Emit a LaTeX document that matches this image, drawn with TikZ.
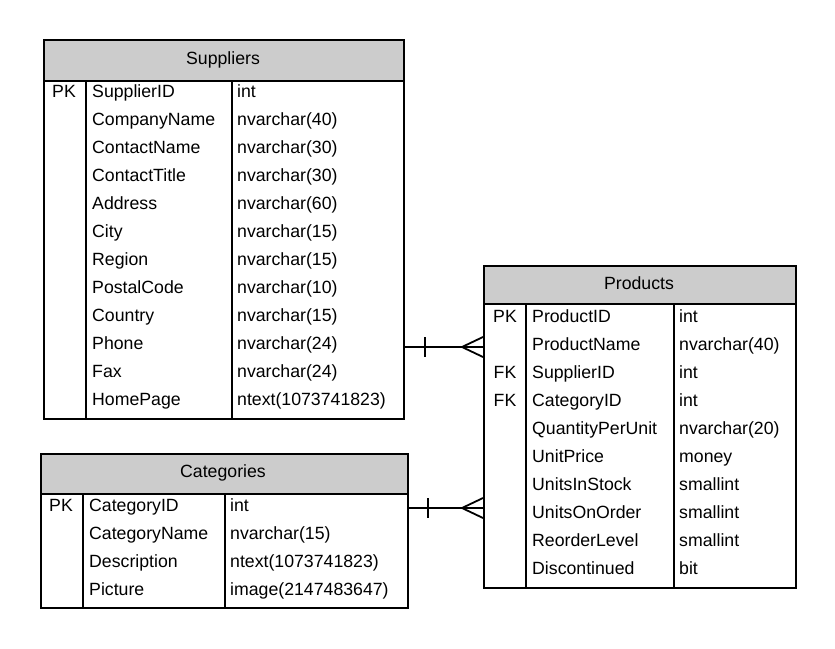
\documentclass[tikz,border=0pt]{standalone}
\usepackage{fontspec}
\setmainfont{Liberation Sans}
\begin{document}
\begin{tikzpicture}[x=1pt,y=-1pt,
  tbl/.style={draw,line width=1.8pt,anchor=north west,inner sep=0pt},
  hdr/.style={draw,line width=1.8pt,fill=black!20,anchor=north west,inner sep=0pt},
  divl/.style={line width=1.5pt},
  txt/.style={font=\fontsize{17.7}{20}\selectfont,inner sep=0pt,anchor=base west},
  ctxt/.style={font=\fontsize{17.7}{20}\selectfont,inner sep=0pt,anchor=base},
  rel/.style={line width=1.8pt}]
\useasboundingbox (0,0) rectangle (835,648);
\fill[white] (0,0) rectangle (835,648);

% ---------- Suppliers ----------
\node[tbl,minimum width=360pt,minimum height=379pt] (sup) at (43,39) {};
\node[hdr,minimum width=360pt,minimum height=41pt] (suph) at (43,39) {};
\node[ctxt] (supt) at (223,64) {Suppliers};
\draw[divl] (86,80) -- (86,418);
\draw[divl] (232,80) -- (232,418);
\foreach \n/\t [count=\i from 0] in {SupplierID/int,CompanyName/nvarchar(40),ContactName/nvarchar(30),ContactTitle/nvarchar(30),Address/nvarchar(60),City/nvarchar(15),Region/nvarchar(15),PostalCode/nvarchar(10),Country/nvarchar(15),Phone/nvarchar(24),Fax/nvarchar(24),HomePage/ntext(1073741823)}{
  \node[txt] (sn\i) at (92,97.5+28*\i) {\n};
  \node[txt] (st\i) at (237,97.5+28*\i) {\t};
}
\node[ctxt] (spk) at (64,97.5) {PK};

% ---------- Categories ----------
\node[tbl,minimum width=367pt,minimum height=154pt] (cat) at (40,453) {};
\node[hdr,minimum width=367pt,minimum height=40pt] (cath) at (40,453) {};
\node[ctxt] (catt) at (223,477) {Categories};
\draw[divl] (83,493) -- (83,607);
\draw[divl] (225,493) -- (225,607);
\foreach \n/\t [count=\i from 0] in {CategoryID/int,CategoryName/nvarchar(15),Description/ntext(1073741823),Picture/image(2147483647)}{
  \node[txt] (cn\i) at (89,511.5+28*\i) {\n};
  \node[txt] (ct\i) at (230,511.5+28*\i) {\t};
}
\node[ctxt] (cpk) at (61,511.5) {PK};

% ---------- Products ----------
\node[tbl,minimum width=312pt,minimum height=322pt] (prod) at (483,265) {};
\node[hdr,minimum width=312pt,minimum height=38pt] (prodh) at (483,265) {};
\node[ctxt] (prodt) at (639,289) {Products};
\draw[divl] (526,303) -- (526,587);
\draw[divl] (674,303) -- (674,587);
\foreach \n/\t [count=\i from 0] in {ProductID/int,ProductName/nvarchar(40),SupplierID/int,CategoryID/int,QuantityPerUnit/nvarchar(20),UnitPrice/money,UnitsInStock/smallint,UnitsOnOrder/smallint,ReorderLevel/smallint,Discontinued/bit}{
  \node[txt] (pn\i) at (532,322.5+28*\i) {\n};
  \node[txt] (pt\i) at (679,322.5+28*\i) {\t};
}
\node[ctxt] (ppk) at (505,322.5) {PK};
\node[ctxt] (pfk1) at (505,378.5) {FK};
\node[ctxt] (pfk2) at (505,406.5) {FK};

% ---------- Relations ----------
\coordinate (r1a) at (sup.east |- 0,347);
\coordinate (r1b) at (prod.west |- 0,347);
\draw[rel] (r1a) -- (r1b);
\draw[rel] ([xshift=20pt]r1a) ++(0,-10) -- ++(0,20);
\draw[rel] ([xshift=-21pt]r1b) -- ++(21,-10);
\draw[rel] ([xshift=-21pt]r1b) -- ++(21,10);

\coordinate (r2a) at (cat.east |- 0,508);
\coordinate (r2b) at (prod.west |- 0,508);
\draw[rel] (r2a) -- (r2b);
\draw[rel] ([xshift=19pt]r2a) ++(0,-10) -- ++(0,20);
\draw[rel] ([xshift=-21pt]r2b) -- ++(21,-10);
\draw[rel] ([xshift=-21pt]r2b) -- ++(21,10);
\end{tikzpicture}
\end{document}
